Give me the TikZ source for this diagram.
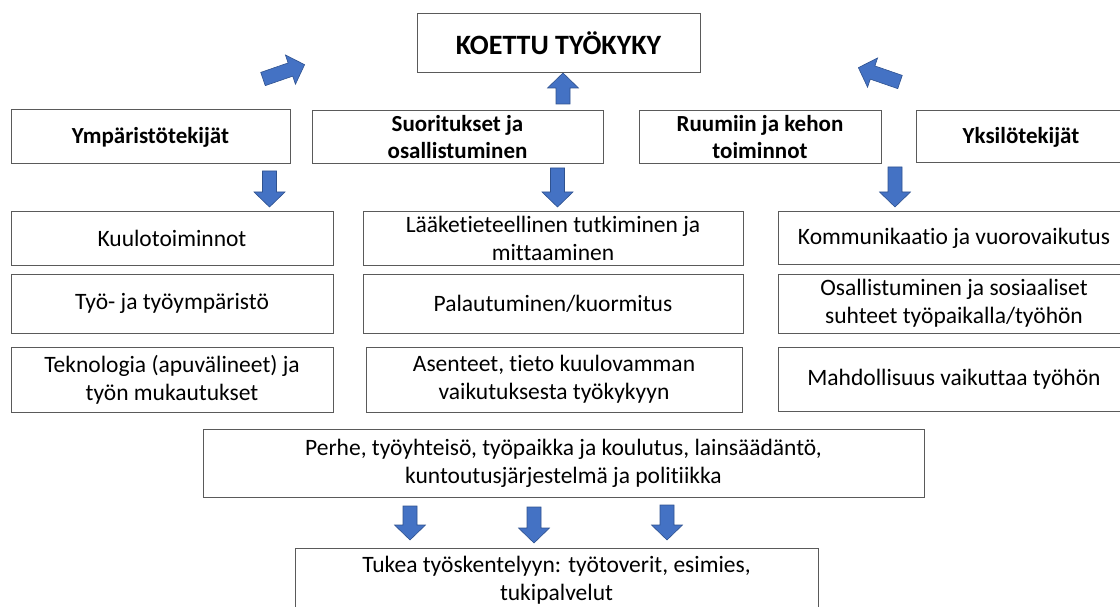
\documentclass[tikz,border=0pt]{standalone}
\usepackage{fontspec}
\setmainfont{Carlito}[Ligatures=NoCommon]
\definecolor{arrowfill}{HTML}{4472C4}
\definecolor{arrowline}{HTML}{2F528F}
\definecolor{boxline}{HTML}{5A5A5A}
\tikzset{
  box/.style={draw=boxline, line width=1pt, align=center, inner sep=0pt, fill=white},
  txt/.style={font=\fontsize{23.5}{28}\selectfont},
  head/.style={font=\fontsize{23}{27}\selectfont\bfseries},
  pics/barrow/.style={code={
    \filldraw[draw=arrowline, fill=arrowfill, line width=0.6pt]
      (0,-7) -- ({#1-15},-7) -- ({#1-15},-15.5) -- (#1,0) -- ({#1-15},15.5) -- ({#1-15},7) -- (0,7) -- cycle;}}
}
\begin{document}
\begin{tikzpicture}[x=1pt,y=1pt]
\useasboundingbox (0,0) rectangle (1120,-607);
\clip (0,0) rectangle (1120,-607);
% top
\node[box, minimum width=283, minimum height=59, font=\fontsize{28}{32}\selectfont\bfseries] (koettu) at (558.5,-43.5) {KOETTU TYÖKYKY};
% headings
\node[box, head, minimum width=279, minimum height=54] (ymp) at (150.5,-137) {Ympäristötekijät};
\node[box, head, minimum width=291, minimum height=53] (suor) at (457.5,-137.5) {Suoritukset ja\\osallistuminen};
\node[box, head, minimum width=242, minimum height=53] (ruum) at (760,-137.5) {Ruumiin ja kehon\\toiminnot};
\node[box, head, minimum width=210, minimum height=52] (yks) at (1021,-137) {Yksilötekijät};
% left column
\node[box, txt, minimum width=322, minimum height=53] (l1) at (172,-238.5) {Kuulotoiminnot};
\node[box, txt, minimum width=322, minimum height=59] (l2) at (172,-303.5) {Työ- ja työympäristö};
\node[box, txt, minimum width=322, minimum height=65] (l3) at (172,-379.5) {Teknologia (apuvälineet) ja\\työn mukautukset};
% middle column
\node[box, txt, minimum width=380, minimum height=53] (m1) at (553,-238.5) {Lääketieteellinen tutkiminen ja\\mittaaminen};
\node[box, txt, minimum width=380, minimum height=59] (m2) at (553,-303.5) {Palautuminen/kuormitus};
\node[box, txt, minimum width=376, minimum height=65] (m3) at (554,-379.5) {Asenteet, tieto kuulovamman\\vaikutuksesta työkykyyn};
% right column
\node[box, txt, minimum width=352, minimum height=52] (r1) at (954,-238) {Kommunikaatio ja vuorovaikutus};
\node[box, txt, minimum width=352, minimum height=59] (r2) at (954,-303.5) {Osallistuminen ja sosiaaliset\\suhteet työpaikalla/työhön};
\node[box, txt, minimum width=352, minimum height=64] (r3) at (954,-379) {Mahdollisuus vaikuttaa työhön};
% bottom
\node[box, txt, minimum width=721, minimum height=68] (perhe) at (563.5,-463) {Perhe, työyhteisö, työpaikka ja koulutus, lainsäädäntö,\\kuntoutusjärjestelmä ja politiikka};
\node[box, txt, minimum width=523, minimum height=64] (tukea) at (556.5,-580) {Tukea työskentelyyn: työtoverit, esimies,\\tukipalvelut};
% arrows
\pic[rotate=90] (aup) at (563,-104) {barrow=31};
\pic[rotate=19] (adl) at (263,-79) {barrow=44};
\pic[rotate=161] (adr) at (900,-82) {barrow=44};
\pic[rotate=-90] (ad1) at (269.5,-171) {barrow=36};
\pic[rotate=-90] (ad2) at (557.5,-168) {barrow=39};
\pic[rotate=-90] (ad3) at (895,-167) {barrow=40};
\pic[rotate=-90] (ab1) at (410,-506) {barrow=34};
\pic[rotate=-90] (ab2) at (534,-507) {barrow=36};
\pic[rotate=-90] (ab3) at (667,-505) {barrow=35};
\end{tikzpicture}
\end{document}
